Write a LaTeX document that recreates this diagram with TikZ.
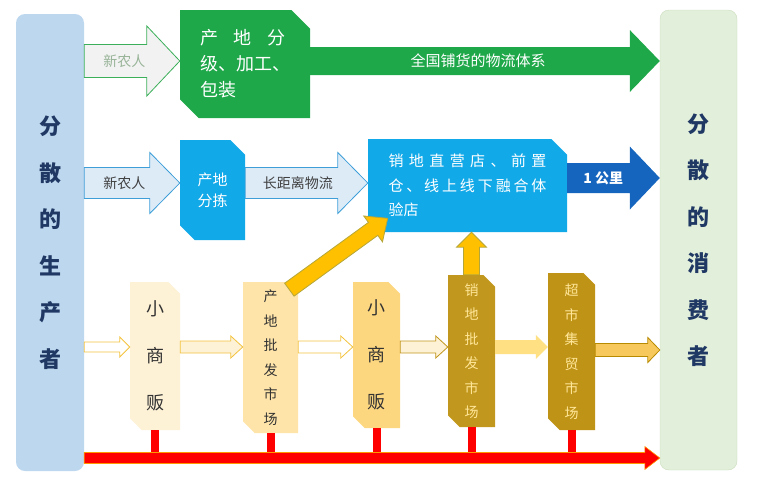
\documentclass[tikz,border=0pt]{standalone}
\usepackage{fontspec}
\setmainfont{Noto Sans CJK SC}
\usepackage{tikz}
\usetikzlibrary{calc}
\usetikzlibrary{positioning}
\usetikzlibrary{shapes.misc}

\definecolor{prodblue}{HTML}{BDD7EE}
\definecolor{consgreen}{HTML}{E2EFDA}
\definecolor{consedge}{HTML}{CADDBE}
\definecolor{navy}{HTML}{1F3864}
\definecolor{grgreen}{HTML}{1FA84A}
\definecolor{edgegreen}{HTML}{3BAF5A}
\definecolor{palegray}{HTML}{F2F2F2}
\definecolor{graygreen}{HTML}{98B498}
\definecolor{skyblue}{HTML}{12A9E9}
\definecolor{paleblue}{HTML}{DDEBF7}
\definecolor{edgeblue}{HTML}{3E9FD8}
\definecolor{deepblue}{HTML}{1565BE}
\definecolor{cream}{HTML}{FDF1D6}
\definecolor{lightorange}{HTML}{FEE4A9}
\definecolor{midorange}{HTML}{FDD780}
\definecolor{goldA}{HTML}{C1971D}
\definecolor{goldB}{HTML}{BF9316}
\definecolor{goldtext}{HTML}{FFE699}
\definecolor{edgegold}{HTML}{F3C33F}
\definecolor{fillgold}{HTML}{F7C95C}
\definecolor{darkgold}{HTML}{B88A00}
\definecolor{amber}{HTML}{FFC000}
\definecolor{olive}{HTML}{B5A63A}
\definecolor{barred}{HTML}{FF0000}
\definecolor{barorange}{HTML}{FF9900}

\tikzstyle{column} = [rectangle, rounded corners=9pt, inner sep=0pt, align=center,
    text=navy, font=\fontsize{22}{46.5}\selectfont\bfseries]
\tikzstyle{snip} = [chamfered rectangle, chamfered rectangle corners={north east,south west},
    chamfered rectangle xsep=8pt, inner sep=0pt]
\tikzstyle{stall} = [snip, align=center, text=black!80, font=\fontsize{18}{47}\selectfont]
\tikzstyle{market} = [snip, align=center, font=\fontsize{14}{24.5}\selectfont]
\tikzstyle{lbl} = [inner sep=0pt, font=\fontsize{14}{16}\selectfont]
\tikzstyle{hollow} = [fill=white, draw=edgegold, line width=0.8pt]
\tikzstyle{stub} = [draw=barred, line width=8pt]

\newcommand{\blockarrow}[6][]{%
  \coordinate (ba-base) at ($(#3)!#6!(#2)$);
  \path[#1] ($(#2)!#4!90:(#3)$) -- ($(ba-base)!#4!90:(#3)$) -- ($(ba-base)!#5!90:(#3)$)
    -- (#3) -- ($(ba-base)!#5!-90:(#3)$) -- ($(ba-base)!#4!-90:(#3)$)
    -- ($(#2)!#4!-90:(#3)$) -- cycle;}
\newcommand{\spreadline}[2]{\makebox[#1][s]{#2}}

\begin{document}
\begin{tikzpicture}[x=1pt, y=-1pt]
  \useasboundingbox (0,0) rectangle (758,477);

  \node [column, fill=prodblue, minimum width=68pt, minimum height=457pt] (prod) at (50,242.5)
    {分\\散\\的\\生\\产\\者};
  \node [column, fill=consgreen, draw=consedge, minimum width=77pt, minimum height=460pt] (cons) at (698.5,240)
    {分\\散\\的\\消\\费\\者};

  \node [snip, chamfered rectangle xsep=15pt, fill=grgreen, minimum width=130pt, minimum height=108pt,
    text=white, align=left, font=\fontsize{18}{26}\selectfont] (grade) at (245,64)
    {\spreadline{86pt}{产\hfil 地\hfil 分}\\级、加工、\\包装};
  \node [snip, chamfered rectangle xsep=11pt, fill=skyblue, minimum width=65pt, minimum height=100pt,
    text=white, align=center, font=\fontsize{15}{21}\selectfont] (sort) at (212.5,190) {产地\\分拣};
  \node [snip, chamfered rectangle xsep=12pt, fill=skyblue, minimum width=199pt, minimum height=93pt,
    text=white, align=left, font=\fontsize{15}{24.5}\selectfont] (store) at (467.5,185.5)
    {\spreadline{158pt}{销\hfil 地\hfil 直\hfil 营\hfil 店\hfil 、\hfil 前\hfil 置}\\
     \spreadline{158pt}{仓\hfil 、\hfil 线\hfil 上\hfil 线\hfil 下\hfil 融\hfil 合\hfil 体}\\验店};

  \node [stall, fill=cream, minimum width=50pt, minimum height=148pt] (hawkA) at (155,356) {小\\商\\贩};
  \node [market, fill=lightorange, text=black!80, minimum width=55pt, minimum height=151pt] (origin) at (270.5,357.5)
    {产\\地\\批\\发\\市\\场};
  \node [stall, fill=midorange, minimum width=47pt, minimum height=146pt] (hawkB) at (376.5,355) {小\\商\\贩};
  \node [market, fill=goldA, text=goldtext, minimum width=47pt, minimum height=152pt] (destw) at (471.5,351)
    {销\\地\\批\\发\\市\\场};
  \node [market, fill=goldB, text=goldtext, minimum width=47pt, minimum height=157pt] (shop) at (571.5,351.5)
    {超\\市\\集\\贸\\市\\场};

  \coordinate (lane1) at (0,61);
  \coordinate (lane2) at (0,183);
  \coordinate (lane2b) at (0,178);
  \coordinate (lane3) at (0,347);
  \coordinate (lane3b) at (0,350);
  \coordinate (bar) at (0,458);

  \blockarrow[fill=palegray, draw=edgegreen, line width=0.8pt]{prod.east |- lane1}{grade.west |- lane1}{16.5pt}{35pt}{33pt}
  \node [lbl, text=graygreen] (farmAtxt) at ($(prod.east |- lane1)!0.42!(grade.west |- lane1)$) {新农人};
  \blockarrow[fill=grgreen]{grade.east |- lane1}{cons.west |- lane1}{14pt}{31pt}{30pt}
  \node [lbl, text=white, font=\fontsize{15}{17}\selectfont] (nationtxt) at ($(grade.east |- lane1)!0.48!(cons.west |- lane1)$)
    {全国铺货的物流体系};

  \blockarrow[fill=paleblue, draw=edgeblue, line width=0.8pt]{prod.east |- lane2}{sort.west |- lane2}{15.5pt}{30.5pt}{30pt}
  \node [lbl, text=black!75] (farmBtxt) at ($(prod.east |- lane2)!0.42!(sort.west |- lane2)$) {新农人};
  \blockarrow[fill=paleblue, draw=edgeblue, line width=0.8pt]{sort.east |- lane2}{store.west |- lane2}{15.5pt}{30.5pt}{30pt}
  \node [lbl, text=black!75] (longtxt) at ($(sort.east |- lane2)!0.43!(store.west |- lane2)$) {长距离物流};
  \blockarrow[fill=deepblue]{store.east |- lane2b}{cons.west |- lane2b}{15pt}{31.5pt}{30pt}
  \node [lbl, text=white, font=\fontsize{14}{16}\selectfont\bfseries] (kmtxt) at ($(store.east |- lane2b)!0.39!(cons.west |- lane2b)$)
    {1 公里};

  \blockarrow[hollow]{prod.east |- lane3}{hawkA.west |- lane3}{5pt}{10pt}{10pt}
  \blockarrow[hollow, fill=cream]{hawkA.east |- lane3}{origin.west |- lane3}{6pt}{11pt}{12pt}
  \blockarrow[hollow]{origin.east |- lane3}{hawkB.west |- lane3}{6pt}{11pt}{12pt}
  \blockarrow[hollow, fill=cream, draw=goldA]{hawkB.east |- lane3}{destw.west |- lane3}{6pt}{11pt}{12pt}
  \blockarrow[fill=goldtext!85!amber]{destw.east |- lane3}{shop.west |- lane3}{7pt}{12pt}{12pt}
  \blockarrow[fill=fillgold, draw=darkgold, line width=0.8pt]{shop.east |- lane3b}{cons.west |- lane3b}{6.5pt}{12.5pt}{12pt}

  \coordinate (diagtail) at ($(origin.north east)+(-3,2)$);
  \coordinate (diagtip) at ($(store.south west)+(12,-6)$);
  \blockarrow[fill=amber, draw=olive, line width=0.8pt]{diagtail}{diagtip}{8pt}{16pt}{18pt}
  \blockarrow[fill=amber, draw=olive, line width=0.8pt]{destw.north}{destw.north |- store.south}{8pt}{15pt}{15pt}

  \draw [stub] (hawkA.south) -- (hawkA.south |- bar);
  \draw [stub] (origin.south) -- (origin.south |- bar);
  \draw [stub] (hawkB.south) -- (hawkB.south |- bar);
  \draw [stub] (destw.south) -- (destw.south |- bar);
  \draw [stub] (shop.south) -- (shop.south |- bar);
  \blockarrow[fill=barred, draw=barorange, line width=0.6pt]{prod.east |- bar}{cons.west |- bar}{5.5pt}{11.5pt}{15pt}
\end{tikzpicture}
\end{document}
